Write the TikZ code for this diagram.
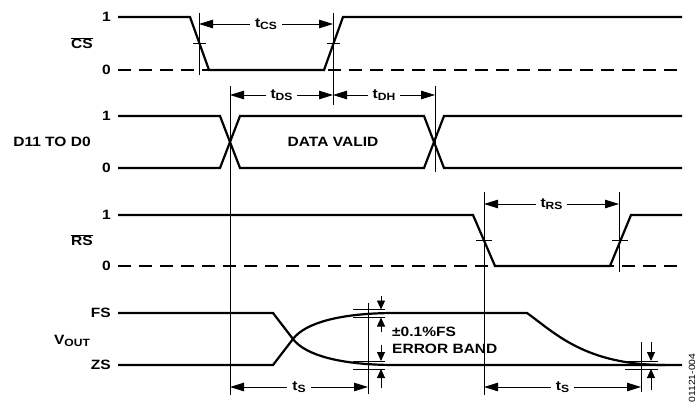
\documentclass[tikz,border=0pt]{standalone}
\usepackage{fontspec}
\setmainfont{Liberation Sans}[FakeStretch=1.15]
\usetikzlibrary{arrows.meta}
\newcommand{\sbs}[1]{\raisebox{-0.35ex}{\fontsize{10.5}{11}\selectfont #1}}
\tikzset{
  sig/.style={line width=2.2pt, line join=miter},
  thinl/.style={line width=0.9pt},
  dsh/.style={line width=2.2pt, dash pattern=on 13pt off 8pt},
  dim/.style={thinl, {Triangle[length=14pt,width=8.5pt]}-{Triangle[length=14pt,width=8.5pt]}},
  vtip/.style={thinl, -{Triangle[length=9pt,width=8pt]}},
  lab/.style={font=\fontsize{13.5}{15}\selectfont\bfseries, inner sep=0pt},
  lvl/.style={lab, anchor=east},
  dlab/.style={lab, fill=white, inner xsep=5pt, inner ysep=1pt},
}
\begin{document}
\begin{tikzpicture}[x=1pt,y=-1pt]
\useasboundingbox (0,0) rectangle (698,404);

% ---------------- CS ----------------
\node[lvl] (cs1) at (111,17) {1};
\node[lvl] (cs0) at (111,70) {0};
\node[lab] (csn) at (82,43) {$\overline{\mbox{CS}}$};
\draw[dsh] (118,70) -- (682,70);
\draw[sig] (118,17) -- (190,17) -- (209,70) -- (324,70) -- (343,17) -- (682,17);
\draw[thinl] (193,43.5) -- (206,43.5);
\draw[thinl] (327,43.5) -- (340,43.5);
\coordinate (v1a) at (199,13); \coordinate (v1b) at (199,75);
\coordinate (v2a) at (333,13); \coordinate (v2b) at (333,105);
\draw[thinl] (v1a) -- (v1b);
\draw[thinl] (v2a) -- (v2b);
\coordinate (tcsA) at (199,24); \coordinate (tcsB) at (333,24);
\draw[dim] (tcsA) -- node[dlab] (tcs) {t\sbs{CS}} (tcsB);

% ---------------- D11 TO D0 ----------------
\node[lvl] (d1) at (111,116) {1};
\node[lvl] (d0) at (111,168) {0};
\node[lab] (dn) at (52,142) {D11 TO D0};
\draw[sig] (118,116) -- (220,116) -- (240,168) -- (424,168) -- (444,116) -- (682,116);
\draw[sig] (118,168) -- (220,168) -- (240,116) -- (424,116) -- (444,168) -- (682,168);
\node[lab] (dv) at (333,142) {DATA VALID};
\coordinate (v3a) at (230,86); \coordinate (v3b) at (230,395);
\coordinate (v4a) at (435,86); \coordinate (v4b) at (435,172);
\draw[thinl] (v3a) -- (v3b);
\draw[thinl] (v4a) -- (v4b);
\coordinate (tdsA) at (230,95); \coordinate (tdsB) at (333,95);
\coordinate (tdhB) at (435,95);
\draw[dim] (tdsA) -- node[dlab] (tds) {t\sbs{DS}} (tdsB);
\draw[dim] (tdsB) -- node[dlab] (tdh) {t\sbs{DH}} (tdhB);

% ---------------- RS ----------------
\node[lvl] (rs1) at (111,215) {1};
\node[lvl] (rs0) at (111,266) {0};
\node[lab] (rsn) at (82,240) {$\overline{\mbox{RS}}$};
\draw[dsh] (118,266) -- (682,266);
\draw[sig] (118,215) -- (473,215) -- (495,266) -- (610,266) -- (631,215) -- (682,215);
\draw[thinl] (476,240.5) -- (492,240.5);
\draw[thinl] (612,240.5) -- (628,240.5);
\coordinate (v5a) at (484,192); \coordinate (v5b) at (484,395);
\coordinate (v6a) at (619,192); \coordinate (v6b) at (619,272);
\draw[thinl] (v5a) -- (v5b);
\draw[thinl] (v6a) -- (v6b);
\coordinate (trsA) at (484,204); \coordinate (trsB) at (619,204);
\draw[dim] (trsA) -- node[dlab] (trs) {t\sbs{RS}} (trsB);

% ---------------- VOUT ----------------
\node[lvl] (fs) at (111,313) {FS};
\node[lvl] (zs) at (111,365) {ZS};
\node[lab] (vout) at (72,341) {V\sbs{OUT}};
\draw[sig] (118,313) -- (273,313) -- (293,339)
  .. controls (305,323) and (340,313) .. (395,313) -- (527,313)
  .. controls (555,333) and (585,365) .. (665,365);
\draw[sig] (118,365) -- (273,365) -- (293,339)
  .. controls (305,355) and (340,365) .. (395,365) -- (682,365);
% error band 1
\draw[thinl] (353,309.5) -- (385,309.5);
\draw[thinl] (353,317.5) -- (385,317.5);
\draw[thinl] (353,361) -- (385,361);
\draw[thinl] (353,369) -- (385,369);
\coordinate (v7a) at (368,303); \coordinate (v7b) at (368,394);
\draw[thinl] (v7a) -- (v7b);
\coordinate (e1a) at (381,296); \coordinate (e1b) at (381,309.5);
\coordinate (e2a) at (381,332); \coordinate (e2b) at (381,317.5);
\coordinate (e3a) at (381,345); \coordinate (e3b) at (381,361);
\coordinate (e4a) at (381,388); \coordinate (e4b) at (381,369);
\draw[vtip] (e1a) -- (e1b);
\draw[vtip] (e2a) -- (e2b);
\draw[vtip] (e3a) -- (e3b);
\draw[vtip] (e4a) -- (e4b);
\node[lab, anchor=west] (eb1) at (392,332) {±0.1\%FS};
\node[lab, anchor=west] (eb2) at (392,349) {ERROR BAND};
% error band 2
\draw[thinl] (625,361) -- (658,361);
\draw[thinl] (625,369) -- (658,369);
\coordinate (v8a) at (641,342); \coordinate (v8b) at (641,392);
\draw[thinl] (v8a) -- (v8b);
\coordinate (e5a) at (651,342); \coordinate (e5b) at (651,361);
\coordinate (e6a) at (651,390); \coordinate (e6b) at (651,369);
\draw[vtip] (e5a) -- (e5b);
\draw[vtip] (e6a) -- (e6b);
% tS arrows
\coordinate (ts1A) at (230,387); \coordinate (ts1B) at (368,387);
\coordinate (ts2A) at (484,387); \coordinate (ts2B) at (641,387);
\draw[dim] (ts1A) -- node[dlab] (ts1) {t\sbs{S}} (ts1B);
\draw[dim] (ts2A) -- node[dlab] (ts2) {t\sbs{S}} (ts2B);

% figure id
\node[font=\fontsize{9}{10}\selectfont, rotate=90, inner sep=0pt] (fid) at (692,378) {01121-004};
\end{tikzpicture}
\end{document}
